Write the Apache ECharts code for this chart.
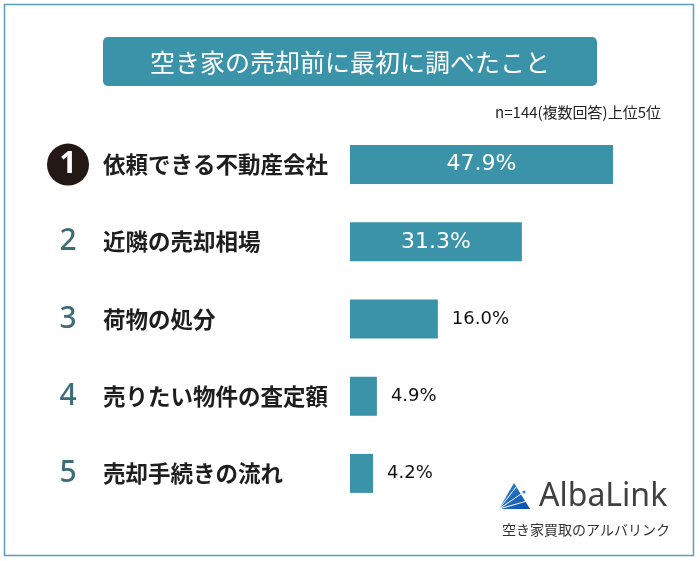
<!DOCTYPE html>
<html><head><meta charset="utf-8">
<script src="https://cdn.jsdelivr.net/npm/echarts@6/dist/echarts.min.js"></script>
<style>html,body{margin:0;padding:0;background:#fff}#c{width:700px;height:561px}</style>
</head><body><div id="c"></div>
<script>
const titleText = '空き家の売却前に最初に調べたこと';
const noteText = 'n=144(複数回答)上位5位';
const categories = ['依頼できる不動産会社','近隣の売却相場','荷物の処分','売りたい物件の査定額','売却手続きの流れ'];
const values = [47.9, 31.3, 16.0, 4.9, 4.2];
const ranks = ['1','2','3','4','5'];
const F = '"Noto Sans CJK JP", "Noto Sans", sans-serif';
const teal = '#3a93a9';

const chart = echarts.init(document.getElementById('c'));
chart.setOption({
  animation: false,
  grid: {left: 350, right: 75.5, top: 126, bottom: 49},
  xAxis: {type: 'value', min: 0, max: 50, show: false},
  yAxis: {
    type: 'category', data: categories, inverse: true,
    axisLine: {show: false}, axisTick: {show: false}, splitLine: {show: false},
    axisLabel: {
      align: 'left', margin: 303,
      formatter: (v, i) => (i === 0 ? '{c|' + ranks[i] + '}' : '{r|' + ranks[i] + '}') + '{n|' + v + '}',
      rich: {
        c: {width: 42, height: 42, borderRadius: 21, backgroundColor: '#231815', color: '#fff',
            fontSize: 30, fontWeight: 'bold', align: 'center', fontFamily: '"Noto Sans", sans-serif', lineHeight: 42},
        r: {width: 42, align: 'center', fontSize: 30, color: '#3e6d7a', fontFamily: '"Noto Sans", sans-serif', fontWeight: 500},
        n: {fontSize: 22.5, fontWeight: 'bold', color: '#1e1e1e', fontFamily: F, padding: [0, 0, 0, 14]}
      }
    }
  },
  series: [{
    type: 'bar', barWidth: 39,
    itemStyle: {color: teal},
    data: values.map((v, i) => ({
      value: v,
      label: i < 2
        ? {show: true, position: 'inside', color: '#fff', fontSize: 22, fontFamily: '"DejaVu Sans", sans-serif'}
        : {show: true, position: 'right', distance: 14, color: '#111', fontSize: 18, fontFamily: '"DejaVu Sans", sans-serif'}
    })),
    label: {formatter: p => p.value.toFixed(1) + '%'}
  }],
  graphic: [
    {type: 'rect', shape: {x: 4.5, y: 4.5, width: 689, height: 551}, style: {fill: 'none', stroke: '#5b9fb3', lineWidth: 1.5}, silent: true},
    {type: 'rect', shape: {x: 103, y: 37, width: 494, height: 49, r: 5}, style: {fill: teal}},
    {type: 'text', x: 350, y: 62, style: {text: titleText, fill: '#fff', font: '25px ' + F, align: 'center', verticalAlign: 'middle'}},
    {type: 'text', x: 661, y: 112, style: {text: noteText, fill: '#222', font: '15px ' + F, align: 'right', verticalAlign: 'middle'}},
    {type: 'polygon', shape: {points: [[499, 509], [514, 483], [530, 509]]},
      style: {fill: new echarts.graphic.LinearGradient(0, 0, 1, 1, [{offset: 0, color: '#2f86d6'}, {offset: 1, color: '#0b4fa8'}])}},
    {type: 'polyline', shape: {points: [[499, 509], [521, 494]]}, style: {stroke: '#fff', lineWidth: 1}},
    {type: 'polyline', shape: {points: [[499, 509], [527, 501]]}, style: {stroke: '#fff', lineWidth: 1}},
    {type: 'polyline', shape: {points: [[499, 509], [516, 487]]}, style: {stroke: '#fff', lineWidth: 1}},
    {type: 'circle', shape: {cx: 524, cy: 492, r: 1.6}, style: {fill: '#2f86d6'}},
    {type: 'text', x: 539, y: 497, style: {text: 'AlbaLink', fill: '#404040', font: '32px "Noto Sans", sans-serif', align: 'left', verticalAlign: 'middle', letterSpacing: 3}},
    {type: 'text', x: 586, y: 530, style: {text: '空き家買取のアルバリンク', fill: '#333', font: '14px ' + F, align: 'center', verticalAlign: 'middle'}}
  ]
});
</script></body></html>
